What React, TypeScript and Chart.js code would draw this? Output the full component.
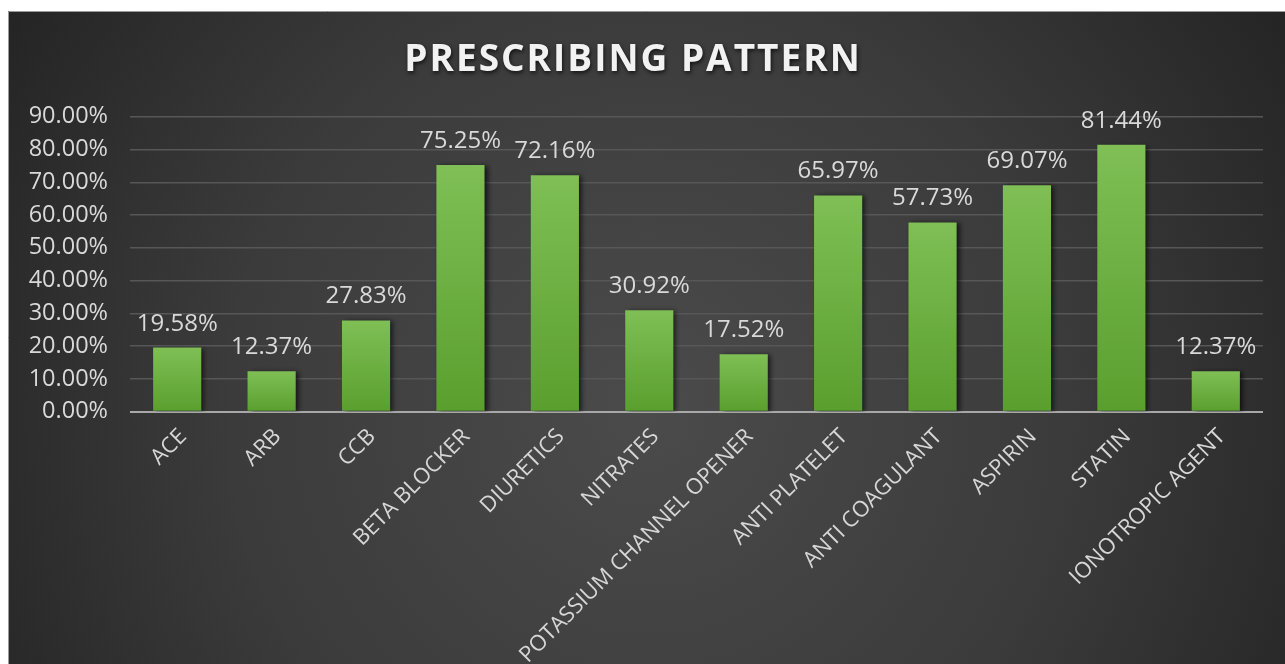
import React, { useEffect, useRef } from "react";
import { Chart, registerables } from "chart.js";

Chart.register(...registerables);

const chartTitle = "PRESCRIBING PATTERN";
const categories = [
  "ACE",
  "ARB",
  "CCB",
  "BETA BLOCKER",
  "DIURETICS",
  "NITRATES",
  "POTASSIUM CHANNEL OPENER",
  "ANTI PLATELET",
  "ANTI COAGULANT",
  "ASPIRIN",
  "STATIN",
  "IONOTROPIC AGENT",
];
const values = [19.58, 12.37, 27.83, 75.25, 72.16, 30.92, 17.52, 65.97, 57.73, 69.07, 81.44, 12.37];
const yMin = 0;
const yMax = 90;
const yStep = 10;

const W = 1277;
const H = 653;
const FONT = "'Open Sans', 'DejaVu Sans', sans-serif";

const backgroundPlugin = {
  id: "bgPlugin",
  beforeDraw(chart: any) {
    const { ctx, width, height } = chart;
    ctx.save();
    const g = ctx.createRadialGradient(640, 400, 0, 640, 400, 760);
    g.addColorStop(0, "#4b4b4b");
    g.addColorStop(0.55, "#3b3b3b");
    g.addColorStop(1, "#242424");
    ctx.fillStyle = g;
    ctx.fillRect(0, 0, width, height);
    ctx.strokeStyle = "#9a9a9a";
    ctx.lineWidth = 1;
    ctx.beginPath();
    ctx.moveTo(0.5, height);
    ctx.lineTo(0.5, 0.5);
    ctx.lineTo(width, 0.5);
    ctx.stroke();
    ctx.restore();
  },
};

const titlePlugin = {
  id: "titlePlugin",
  afterDraw(chart: any) {
    const { ctx } = chart;
    ctx.save();
    ctx.font = `bold 37px ${FONT}`;
    (ctx as any).letterSpacing = "2px";
    ctx.textAlign = "center";
    ctx.textBaseline = "middle";
    ctx.shadowColor = "rgba(0,0,0,0.7)";
    ctx.shadowBlur = 4;
    ctx.shadowOffsetX = 1;
    ctx.shadowOffsetY = 2;
    ctx.fillStyle = "#f2f2f2";
    ctx.fillText(chartTitle, 625, 49);
    ctx.restore();
  },
};

const barShadowPlugin = {
  id: "barShadow",
  beforeDatasetsDraw(chart: any) {
    const { ctx } = chart;
    ctx.save();
    ctx.shadowColor = "rgba(0,0,0,0.65)";
    ctx.shadowBlur = 5;
    ctx.shadowOffsetX = 3;
    ctx.shadowOffsetY = 1;
  },
  afterDatasetsDraw(chart: any) {
    chart.ctx.restore();
  },
};

const dataLabelPlugin = {
  id: "dataLabels",
  afterDatasetsDraw(chart: any) {
    const { ctx } = chart;
    const meta = chart.getDatasetMeta(0);
    ctx.save();
    ctx.font = `24px ${FONT}`;
    ctx.fillStyle = "#d9d9d9";
    ctx.textAlign = "center";
    ctx.textBaseline = "alphabetic";
    meta.data.forEach((bar: any, i: number) => {
      const v = chart.data.datasets[0].data[i] as number;
      ctx.fillText(v.toFixed(2) + "%", bar.x, bar.y - 17);
    });
    ctx.restore();
  },
};

export default function App() {
  const ref = useRef<HTMLCanvasElement | null>(null);

  useEffect(() => {
    if (!ref.current) return;
    const chart = new Chart(ref.current, {
      type: "bar",
      data: {
        labels: categories,
        datasets: [
          {
            data: values,
            barPercentage: 0.51,
            categoryPercentage: 1,
            backgroundColor: (c: any) => {
              const ch = c.chart;
              if (!ch.chartArea || c.parsed == null) return "#6db33f";
              const ys = ch.scales.y;
              const top = ys.getPixelForValue(c.parsed.y);
              const bottom = ys.getPixelForValue(0);
              if (!isFinite(top) || !isFinite(bottom) || top === bottom) return "#6db33f";
              const g = ch.ctx.createLinearGradient(0, top, 0, bottom);
              g.addColorStop(0, "#7fbf55");
              g.addColorStop(1, "#5a9f2e");
              return g;
            },
            borderWidth: 0,
          },
        ],
      },
      options: {
        responsive: false,
        animation: false,
        events: [],
        layout: { padding: { top: 105.7, right: 22, bottom: 0, left: 0 } },
        plugins: {
          legend: { display: false },
          title: { display: false },
          tooltip: { enabled: false },
        },
        scales: {
          x: {
            grid: { display: false, drawTicks: false },
            border: { display: false },
            ticks: {
              color: "#d6d6d6",
              font: { family: FONT, size: 22 },
              minRotation: 45,
              maxRotation: 45,
              autoSkip: false,
              padding: 12,
              labelOffset: 6,
            },
            afterFit: (s: any) => {
              s.height = 252.3;
            },
          },
          y: {
            min: yMin,
            max: yMax,
            grid: {
              drawTicks: false,
              color: (c: any) => (c.tick && c.tick.value === 0 ? "#a8a8a8" : "#575757"),
              lineWidth: (c: any) => (c.tick && c.tick.value === 0 ? 2 : 1.5),
            },
            border: { display: false },
            ticks: {
              stepSize: yStep,
              color: "#d9d9d9",
              font: { family: FONT, size: 23.5 },
              padding: 22,
              callback: (v: any) => Number(v).toFixed(2) + "%",
            },
            afterFit: (s: any) => {
              s.width = 122;
            },
          },
        },
      },
      plugins: [backgroundPlugin, barShadowPlugin, dataLabelPlugin, titlePlugin],
    });
    return () => chart.destroy();
  }, []);

  return (
    <div style={{ position: "absolute", left: 8, top: 11, width: W, height: H, overflow: "hidden" }}>
      <canvas ref={ref} width={W} height={H} style={{ display: "block", width: W, height: H }} />
    </div>
  );
}
